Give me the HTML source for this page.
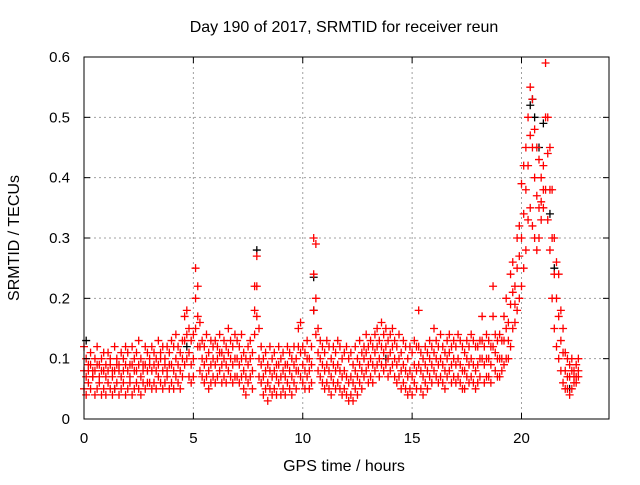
<!DOCTYPE html>
<html><head><meta charset="utf-8"><style>
body{margin:0;background:#fff}
svg text{font-family:"Liberation Sans",sans-serif;font-size:15px;fill:#000}
</style></head><body>
<svg id="chart" width="640" height="480">
<rect width="640" height="480" fill="#fff"/>
<g id="grid"></g><g id="marks"></g><g id="axes"></g>
</svg>
<script>
const xTicks=[0,5,10,15,20];
const yTicks=[0,0.1,0.2,0.3,0.4,0.5,0.6];
const yTickLabels=["0","0.1","0.2","0.3","0.4","0.5","0.6"];
const step=0.1;
const redHi=[.12,.10,.09,.11,.08,.10,.12,.09,.10,.11,
.09,.11,.10,.08,.12,.10,.09,.11,.10,.12,
.11,.09,.12,.10,.11,.13,.10,.09,.12,.11,
.10,.12,.11,.10,.13,.11,.12,.10,.12,.11,
.13,.12,.14,.12,.11,.13,.17,.18,.15,.13,
.14,.25,.22,.16,.13,.12,.14,.11,.13,.12,
.13,.12,.14,.11,.13,.12,.15,.13,.12,.14,
.13,.12,.14,.11,.10,.12,.13,.11,.22,.27,
.15,.12,.10,.11,.09,.12,.10,.11,.09,.12,
.10,.11,.09,.12,.11,.10,.12,.10,.15,.16,
.12,.11,.13,.10,.12,.30,.29,.15,.13,.12,
.11,.13,.12,.10,.12,.11,.13,.12,.10,.11,
.12,.10,.11,.09,.12,.10,.13,.11,.12,.14,
.12,.13,.12,.14,.15,.13,.16,.14,.15,.13,
.14,.15,.13,.12,.14,.11,.13,.12,.10,.12,
.11,.13,.12,.18,.11,.10,.12,.11,.13,.12,
.15,.13,.12,.14,.12,.11,.13,.14,.12,.13,
.12,.14,.13,.12,.11,.13,.12,.14,.13,.12,
.12,.13,.17,.12,.14,.13,.12,.22,.14,.13,
.14,.13,.17,.20,.16,.24,.26,.22,.30,.32,
.39,.42,.45,.50,.55,.53,.48,.45,.43,.40,
.42,.59,.50,.45,.38,.30,.26,.24,.18,.15,
.11,.10,.09,.10,.08,.09,.10];
const redMid=[.08,.07,.08,.09,.07,.08,.09,.07,.08,.08,
.07,.08,.09,.07,.08,.09,.08,.07,.08,.09,
.08,.07,.09,.08,.08,.09,.07,.08,.09,.08,
.09,.08,.09,.08,.09,.10,.08,.09,.08,.09,
.09,.08,.10,.09,.08,.10,.13,.14,.11,.09,
.10,.20,.17,.12,.10,.09,.10,.08,.09,.10,
.09,.10,.11,.09,.10,.09,.11,.10,.09,.10,
.10,.09,.10,.08,.07,.09,.10,.08,.18,.22,
.10,.09,.07,.08,.06,.08,.07,.08,.07,.09,
.07,.08,.07,.09,.08,.07,.09,.08,.12,.11,
.09,.08,.10,.08,.09,.24,.20,.11,.10,.09,
.08,.09,.08,.07,.09,.08,.09,.08,.07,.08,
.07,.06,.07,.06,.08,.07,.09,.08,.10,.11,
.09,.10,.09,.11,.12,.10,.12,.11,.12,.10,
.11,.12,.10,.09,.10,.08,.09,.08,.07,.08,
.07,.09,.08,.12,.08,.07,.09,.08,.10,.09,
.11,.10,.09,.10,.09,.08,.10,.11,.09,.10,
.09,.10,.09,.08,.08,.10,.09,.10,.09,.08,
.09,.10,.13,.09,.10,.10,.09,.17,.11,.10,
.10,.10,.13,.15,.13,.19,.21,.19,.25,.27,
.30,.34,.38,.42,.47,.45,.40,.37,.35,.36,
.38,.50,.44,.38,.30,.24,.20,.17,.13,.11,
.08,.07,.07,.08,.07,.07,.08];
const redLo=[.05,.04,.06,.05,.07,.04,.05,.06,.04,.05,
.04,.06,.05,.04,.05,.06,.04,.05,.06,.04,
.05,.06,.04,.05,.06,.05,.04,.06,.05,.06,
.06,.05,.06,.05,.07,.06,.05,.06,.07,.05,
.06,.05,.07,.06,.05,.07,.09,.10,.07,.06,
.07,.15,.12,.08,.07,.06,.07,.05,.06,.07,
.06,.07,.08,.06,.07,.06,.08,.07,.06,.07,
.07,.06,.07,.05,.04,.06,.07,.05,.14,.17,
.07,.06,.04,.05,.03,.05,.04,.05,.04,.06,
.04,.05,.04,.06,.05,.04,.06,.05,.08,.07,
.06,.05,.07,.05,.06,.18,.14,.08,.07,.06,
.05,.06,.05,.04,.06,.05,.06,.05,.04,.05,
.04,.03,.04,.03,.05,.04,.06,.05,.07,.08,
.06,.07,.06,.08,.09,.07,.09,.08,.09,.07,
.08,.09,.07,.06,.07,.05,.06,.05,.04,.05,
.04,.06,.05,.09,.05,.04,.06,.05,.07,.06,
.08,.07,.06,.07,.06,.05,.07,.08,.06,.07,
.06,.07,.06,.05,.05,.07,.06,.07,.06,.05,
.06,.07,.10,.06,.07,.07,.06,.12,.08,.07,
.07,.08,.09,.10,.10,.12,.15,.16,.18,.20,
.22,.25,.28,.33,.35,.32,.30,.28,.30,.33,
.35,.38,.33,.28,.20,.15,.12,.10,.08,.06,
.05,.05,.04,.05,.06,.06,.07];
const blackT=[0.1,1.4,4.7,7.9,10.5,10.5,13.8,20.4,20.5,20.6,20.8,21.0,21.3,21.5,22.2];
const blackV=[0.13,0.05,0.12,0.28,0.235,0.18,0.10,0.52,0.53,0.50,0.45,0.49,0.34,0.25,0.05];

const X0=84,X1=609,Y0=419,Y1=57,XMAX=24,YMAX=0.6;
const sx=v=>X0+(X1-X0)*v/XMAX;
const sy=v=>Y0-(Y0-Y1)*v/YMAX;
const NS="http://www.w3.org/2000/svg";
function mk(tag,attrs,parent){const e=document.createElementNS(NS,tag);for(const k in attrs)e.setAttribute(k,attrs[k]);parent.appendChild(e);return e;}
const grid=document.getElementById('grid'),marks=document.getElementById('marks'),axes=document.getElementById('axes');
xTicks.forEach(t=>{if(t>0){const l=mk('line',{x1:sx(t),x2:sx(t),y1:Y0,y2:Y1,stroke:'#a0a0a0','stroke-dasharray':'2,3'},grid);

}});
yTicks.forEach(t=>{if(t>0&&t<YMAX){const l=mk('line',{x1:X0,x2:X1,y1:sy(t),y2:sy(t),stroke:'#a0a0a0','stroke-dasharray':'2,3'},grid);

}});
function plus(x,y,c,name){const p=mk('path',{d:`M${x-4},${y}h8M${x},${y-4}v8`,stroke:c,'stroke-width':1.3,fill:'none'},marks);

}
blackT.forEach((t,i)=>plus(sx(t),sy(blackV[i]),'#000','black-point'));
[redLo,redMid,redHi].forEach(arr=>arr.forEach((v,i)=>plus(sx(i*step),sy(v),'#ff0000','red-point')));
const fr=mk('rect',{x:X0,y:Y1,width:X1-X0,height:Y0-Y1,fill:'none',stroke:'#000'},axes);


xTicks.forEach(t=>{mk('line',{x1:sx(t),x2:sx(t),y1:Y0,y2:Y0-6,stroke:'#000'},axes);mk('line',{x1:sx(t),x2:sx(t),y1:Y1,y2:Y1+6,stroke:'#000'},axes);
const tx=mk('text',{x:sx(t),y:Y0+24,'text-anchor':'middle'},axes);tx.textContent=t;

});
yTicks.forEach((t,i)=>{mk('line',{x1:X0,x2:X0+6,y1:sy(t),y2:sy(t),stroke:'#000'},axes);mk('line',{x1:X1,x2:X1-6,y1:sy(t),y2:sy(t),stroke:'#000'},axes);
const tx=mk('text',{x:X0-14,y:sy(t)+5,'text-anchor':'end'},axes);tx.textContent=yTickLabels[i];

});
</script>
<svg width="640" height="480" style="position:absolute;left:0;top:0">
<text x="344" y="32" text-anchor="middle" style="font-family:'Liberation Sans',sans-serif;font-size:16px">Day 190 of 2017, SRMTID for receiver reun</text>
<text x="344" y="471" text-anchor="middle" style="font-family:'Liberation Sans',sans-serif;font-size:16px">GPS time / hours</text>
<text x="0" y="0" transform="translate(19,238) rotate(-90)" text-anchor="middle" style="font-family:'Liberation Sans',sans-serif;font-size:16px">SRMTID / TECUs</text>
</svg>
</body></html>
